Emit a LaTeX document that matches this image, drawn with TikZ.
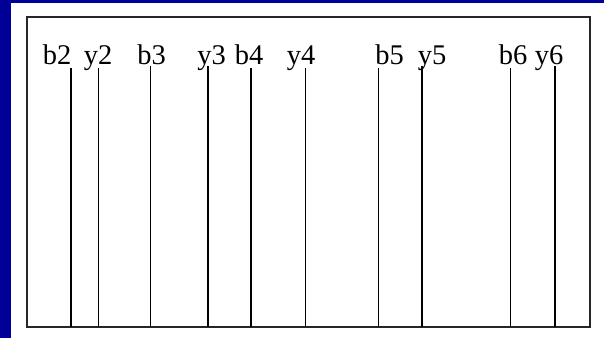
\documentclass[tikz,border=0pt]{standalone}
\usepackage{fontspec}
\setmainfont{Liberation Serif}
\usepackage{xcolor}
\usepackage{tikz}
\usetikzlibrary{positioning, calc}

\definecolor{slideblue}{RGB}{0,0,153}

\begin{document}
\begin{tikzpicture}[
    x=1pt, y=-1pt,
    ionlabel/.style={anchor=base, inner sep=0pt, font=\fontsize{28.5}{34}\selectfont},
    ionline/.style={line width=1.5pt, color=black},
    framebox/.style={line width=1.3pt, color=black!85}
]

\useasboundingbox (0,0) rectangle (604,338);
\fill[white] (0,0) rectangle (604,338);
\fill[slideblue] (0,0) rectangle (11,338);
\fill[slideblue] (0,0) rectangle (604,3);

\coordinate (nw) at (27,17);
\coordinate (se) at (590,327);
\draw[framebox] (nw) rectangle (se);

\node[ionlabel] (b2) at (57,64) {b2};
\node[ionlabel] (y2) at (98,64) {y2};
\node[ionlabel] (b3) at (151.5,64) {b3};
\node[ionlabel] (y3) at (211.5,64) {y3};
\node[ionlabel] (b4) at (249,64) {b4};
\node[ionlabel] (y4) at (301,64) {y4};
\node[ionlabel] (b5) at (389.5,64) {b5};
\node[ionlabel] (y5) at (432,64) {y5};
\node[ionlabel] (b6) at (513,64) {b6};
\node[ionlabel] (y6) at (549,64) {y6};

\coordinate (cb2) at (71,68);
\coordinate (cy2) at (98.7,68);
\coordinate (cb3) at (150.7,66);
\coordinate (cy3) at (208,66);
\coordinate (cb4) at (251,68);
\coordinate (cy4) at (305.3,68);
\coordinate (cb5) at (378.3,68);
\coordinate (cy5) at (422,66);
\coordinate (cb6) at (510.3,68);
\coordinate (cy6) at (555,66);

\draw[ionline] (cb2) -- (cb2 |- se);
\draw[ionline] (cy2) -- (cy2 |- se);
\draw[ionline] (cb3) -- (cb3 |- se);
\draw[ionline] (cy3) -- (cy3 |- se);
\draw[ionline] (cb4) -- (cb4 |- se);
\draw[ionline] (cy4) -- (cy4 |- se);
\draw[ionline] (cb5) -- (cb5 |- se);
\draw[ionline] (cy5) -- (cy5 |- se);
\draw[ionline] (cb6) -- (cb6 |- se);
\draw[ionline] (cy6) -- (cy6 |- se);

\end{tikzpicture}
\end{document}
